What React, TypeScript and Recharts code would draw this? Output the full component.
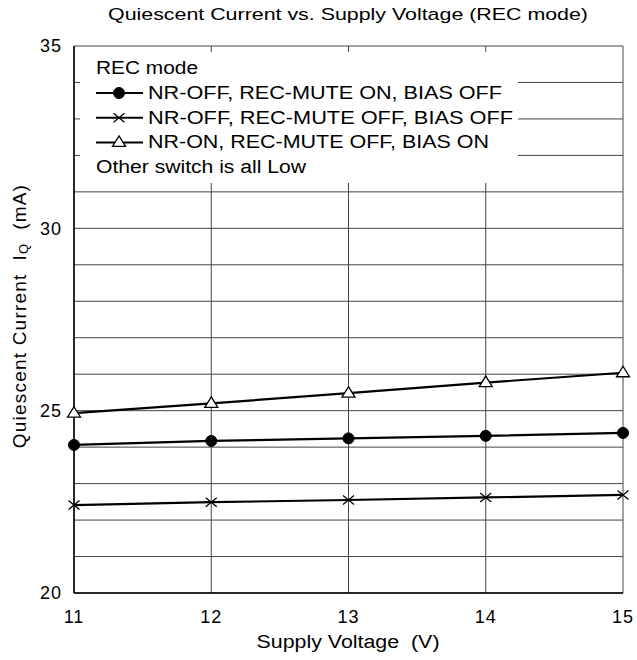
import { LineChart, Line, XAxis, YAxis, CartesianGrid, Legend } from "recharts";

const voltages = [11, 12, 13, 14, 15];
const recMuteOn = [24.06, 24.17, 24.24, 24.31, 24.39];
const allOff = [22.41, 22.49, 22.55, 22.62, 22.69];
const nrOnBiasOn = [24.93, 25.2, 25.48, 25.77, 26.04];
const yTicks = [20, 21, 22, 23, 24, 25, 26, 27, 28, 29, 30, 31, 32, 33, 34, 35];
const xTicks = [11, 12, 13, 14, 15];
const legendTitle = "REC mode";
const legendNote = "Other switch is all Low";
const seriesNames = [
  "NR-OFF, REC-MUTE ON, BIAS OFF",
  "NR-OFF, REC-MUTE OFF, BIAS OFF",
  "NR-ON, REC-MUTE OFF, BIAS ON",
];

const data = voltages.map((v, i) => ({
  v,
  a: recMuteOn[i],
  b: allOff[i],
  c: nrOnBiasOn[i],
}));

const FONT = "'Liberation Sans', Arial, sans-serif";
const kinds = ["circle", "cross", "triangle"];
// stretched widths of the legend rows
const rowWidths = [354, 365, 341];

function Marker({ kind, cx, cy }: { kind: string; cx: number; cy: number }) {
  if (kind === "circle") return <circle cx={cx} cy={cy} r={5.5} fill="#000" stroke="#000" />;
  if (kind === "cross")
    return (
      <path
        d={`M${cx - 5.5},${cy - 4.5}L${cx + 5.5},${cy + 4.5}M${cx - 5.5},${cy + 4.5}L${cx + 5.5},${cy - 4.5}`}
        stroke="#000"
        strokeWidth={1.3}
        fill="none"
      />
    );
  return (
    <path
      d={`M${cx},${cy - 6.5}L${cx + 6.5},${cy + 4}L${cx - 6.5},${cy + 4}Z`}
      fill="#fff"
      stroke="#000"
      strokeWidth={1.3}
    />
  );
}

const dotFor = (kind: string) => (p: any) =>
  <Marker key={`${kind}-${p.index}`} kind={kind} cx={p.cx} cy={p.cy} />;

function LegendBox() {
  const txt = { fontFamily: FONT, fontSize: 18, fill: "#000", dominantBaseline: "central" as const, lengthAdjust: "spacingAndGlyphs" };
  return (
    <svg width={438} height={131} style={{ display: "block" }}>
      <text x={16} y={16} textLength={102} {...txt}>{legendTitle}</text>
      {seriesNames.map((n, i) => {
        const y = 41 + i * 24.7;
        return (
          <g key={n}>
            <line x1={16} y1={y} x2={63} y2={y} stroke="#000" strokeWidth={2} />
            <Marker kind={kinds[i]} cx={39} cy={y} />
            <text x={68} y={y} textLength={rowWidths[i]} {...txt}>{n}</text>
          </g>
        );
      })}
      <text x={16} y={115} textLength={210} {...txt}>{legendNote}</text>
    </svg>
  );
}

function YLabel() {
  const cx = 19;
  const cy = 316;
  return (
    <text
      x={cx}
      y={cy}
      transform={`rotate(-90, ${cx}, ${cy})`}
      textAnchor="middle"
      dominantBaseline="central"
      fontFamily={FONT}
      fontSize={19}
      fill="#000"
      letterSpacing={1.2}
    >
      {"Quiescent Current\u00a0 I"}
      <tspan fontSize={13} dy={4}>Q</tspan>
      <tspan dy={-4}>{"\u00a0 (mA)"}</tspan>
    </text>
  );
}

function XLabel() {
  return (
    <text
      x={348}
      y={642}
      textAnchor="middle"
      dominantBaseline="central"
      fontFamily={FONT}
      fontSize={18}
      fill="#000"
      textLength={183}
      lengthAdjust="spacingAndGlyphs"
    >
      {"Supply Voltage\u00a0 (V)"}
    </text>
  );
}

export default function App() {
  return (
    <div style={{ position: "absolute", left: 0, top: 0, background: "#fff" }}>
      <LineChart
        width={637}
        height={660}
        data={data}
        margin={{ top: 46, right: 14, bottom: 37, left: 14 }}
        style={{ fontFamily: FONT }}
      >
        <text
          x={348}
          y={14}
          textAnchor="middle"
          dominantBaseline="central"
          fontFamily={FONT}
          fontSize={17}
          fill="#000"
          textLength={480}
          lengthAdjust="spacingAndGlyphs"
        >
          Quiescent Current vs. Supply Voltage (REC mode)
        </text>
        <CartesianGrid stroke="#444" strokeWidth={1} />
        <XAxis
          dataKey="v"
          type="number"
          domain={[11, 15]}
          ticks={xTicks}
          height={30}
          axisLine={{ stroke: "#000", strokeWidth: 1.5 }}
          tickLine={false}
          tick={{ fill: "#000", fontSize: 18, fontFamily: FONT, letterSpacing: 1 }}
          tickMargin={11}
          label={<XLabel />}
        />
        <YAxis
          type="number"
          domain={[20, 35]}
          ticks={yTicks}
          width={60}
          interval={0}
          axisLine={{ stroke: "#000", strokeWidth: 1.5 }}
          tickLine={false}
          tick={{ fill: "#000", fontSize: 18, fontFamily: FONT, letterSpacing: 1 }}
          tickFormatter={(t: number) => (t % 5 === 0 ? String(t) : "")}
          tickMargin={6}
          label={<YLabel />}
        />
        <Line dataKey="a" stroke="#000" strokeWidth={2.2} dot={dotFor("circle")} isAnimationActive={false} />
        <Line dataKey="b" stroke="#000" strokeWidth={2.2} dot={dotFor("cross")} isAnimationActive={false} />
        <Line dataKey="c" stroke="#000" strokeWidth={2.2} dot={dotFor("triangle")} isAnimationActive={false} />
        <Legend
          layout="vertical"
          align="center"
          verticalAlign="middle"
          content={() => <LegendBox />}
          wrapperStyle={{ left: 80, top: 52, width: 438, height: 131, background: "#fff" }}
        />
      </LineChart>
    </div>
  );
}
